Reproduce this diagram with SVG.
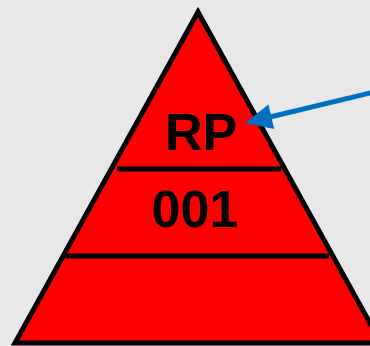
<svg xmlns="http://www.w3.org/2000/svg" width="370" height="346" viewBox="0 0 370 346">
<style>
.lbl{font-family:"Liberation Sans",Arial,sans-serif;font-weight:bold;font-size:52px;fill:#000;text-anchor:middle}
.div{stroke:#000;stroke-width:5}
</style>
<rect width="370" height="346" fill="#e8e8e8"/>
<g id="pyramid">
<polygon points="198,12 15,343 381,343" fill="#ff0000" stroke="#000" stroke-width="5" stroke-linejoin="miter"/>
<line class="div" x1="117" y1="169" x2="281" y2="169"/>
<line class="div" x1="66" y1="256" x2="329" y2="256"/>
<text class="lbl" x="201" y="150">RP</text>
<text class="lbl" x="195" y="227">001</text>
</g>
<g id="connectors">
<line x1="372" y1="92.5" x2="270" y2="117" stroke="#0070c0" stroke-width="5"/>
<polygon points="245,123 268.4,104.5 274.2,128.9" fill="#0070c0"/>
</g>
</svg>
